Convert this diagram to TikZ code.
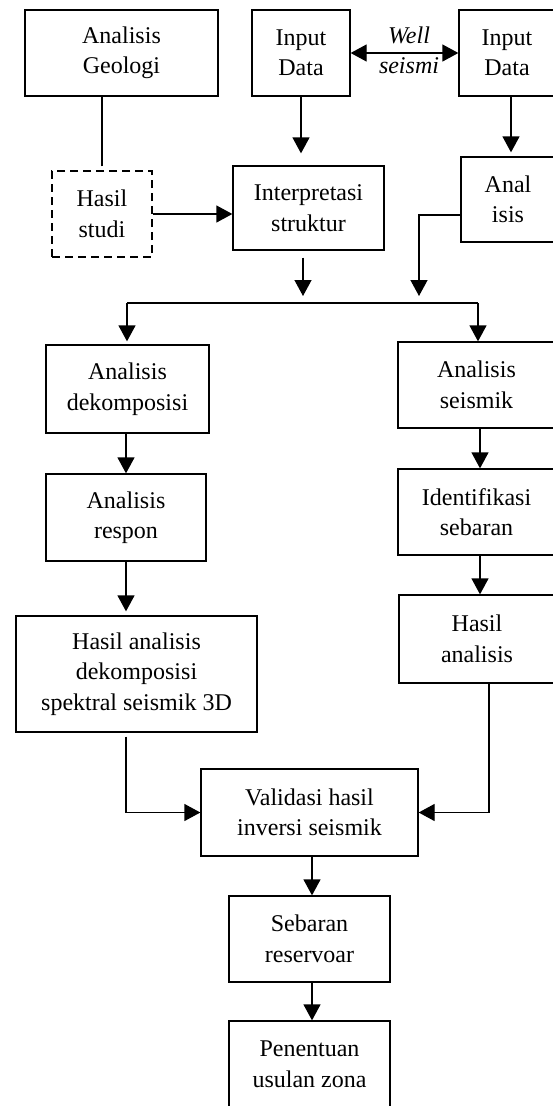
\documentclass[tikz,border=0pt]{standalone}
\usepackage{fontspec}
\setmainfont{Liberation Serif}
\usetikzlibrary{arrows.meta}

\begin{document}
\begin{tikzpicture}[x=1pt,y=-1pt,line width=1.3pt,
    every node/.style={font=\fontsize{24}{30.5}\selectfont,align=center},
    kotak/.style={draw,inner sep=0pt},
    panah/.style={-{Triangle[length=16pt,width=17pt]}}]
      \useasboundingbox (0,0) rectangle (552,1106);
      \fill[white] (0,0) rectangle (552,1106);
      \draw
        (121.5,53) node[kotak,minimum width=193pt,minimum height=86pt] (0){Analisis\\Geologi}
        (301,53) node[kotak,minimum width=98pt,minimum height=86pt] (1){Input\\Data}
        (507,53) node[kotak,minimum width=96pt,minimum height=86pt] (2){Input\\Data}
        (102,214) node[kotak,dash pattern=on 8pt off 5pt,minimum width=100pt,minimum height=86pt] (3){Hasil\\studi}
        (308.5,208) node[kotak,minimum width=151pt,minimum height=84pt] (4){Interpretasi\\struktur}
        (508,199.5) node[kotak,minimum width=94pt,minimum height=85pt] (5){Anal\\isis}
        (127.5,389) node[kotak,minimum width=163pt,minimum height=88pt] (6){Analisis\\dekomposisi}
        (126,517.5) node[kotak,minimum width=160pt,minimum height=87pt] (7){Analisis\\respon}
        (136.5,674) node[kotak,minimum width=241pt,minimum height=116pt] (8){Hasil analisis\\dekomposisi\\spektral seismik 3D}
        (476.5,385) node[kotak,minimum width=157pt,minimum height=86pt] (9){Analisis\\seismik}
        (476.5,512) node[kotak,minimum width=157pt,minimum height=86pt] (10){Identifikasi\\sebaran}
        (477,639) node[kotak,minimum width=156pt,minimum height=88pt] (11){Hasil\\analisis}
        (309.5,812.5) node[kotak,minimum width=217pt,minimum height=87pt] (12){Validasi hasil\\inversi seismik}
        (309.5,939) node[kotak,minimum width=161pt,minimum height=86pt] (13){Sebaran\\reservoar}
        (309.5,1064) node[kotak,minimum width=161pt,minimum height=86pt] (14){Penentuan\\usulan zona}
        (409,35) node (15){\textit{Well}}
        (409,66) node (16){\textit{seismi}};
      \coordinate (c1) at (303,296);
      \coordinate (c2) at (419,296);
      \coordinate (b1) at (127,303);
      \coordinate (b2) at (478,303);
      \begin{scope}[panah]
        \draw[-,shorten <=4pt] (3.north) to (3.north |- 0.south);
        \draw (3.east) to (3.east -| 4.west);
        \draw[{Triangle[length=16pt,width=17pt]}-{Triangle[length=16pt,width=17pt]}] (1.east) to (2.west);
        \draw[shorten >=12pt] (1.south) to (1.south |- 4.north);
        \draw[shorten >=4pt] ([xshift=4pt]2.south) to ([xshift=4pt]2.south |- 5.north);
        \draw[shorten <=7pt] (4.south -| c1) to (c1);
        \draw ([yshift=-15.5pt]5.west) -| (c2);
        \draw[-] (b1) to (b2);
        \draw[shorten >=3pt] (b1) to (b1 |- 6.north);
        \draw (b2) to (b2 |- 9.north);
        \draw (6.south -| 7) to (7.north);
        \draw[shorten >=4pt] (7.south) to (7.south |- 8.north);
        \draw ([xshift=3.5pt]9.south) to ([xshift=3.5pt]10.north);
        \draw ([xshift=3.5pt]10.south) to ([xshift=3.5pt]10.south |- 11.north);
        \draw[shorten <=4pt] ([xshift=-10.5pt]8.south) |- (12.west);
        \draw ([xshift=12pt]11.south) |- (12.east);
        \draw ([xshift=2.5pt]12.south) to ([xshift=2.5pt]13.north);
        \draw ([xshift=2.5pt]13.south) to ([xshift=2.5pt]14.north);
      \end{scope}
    \end{tikzpicture}
\end{document}
